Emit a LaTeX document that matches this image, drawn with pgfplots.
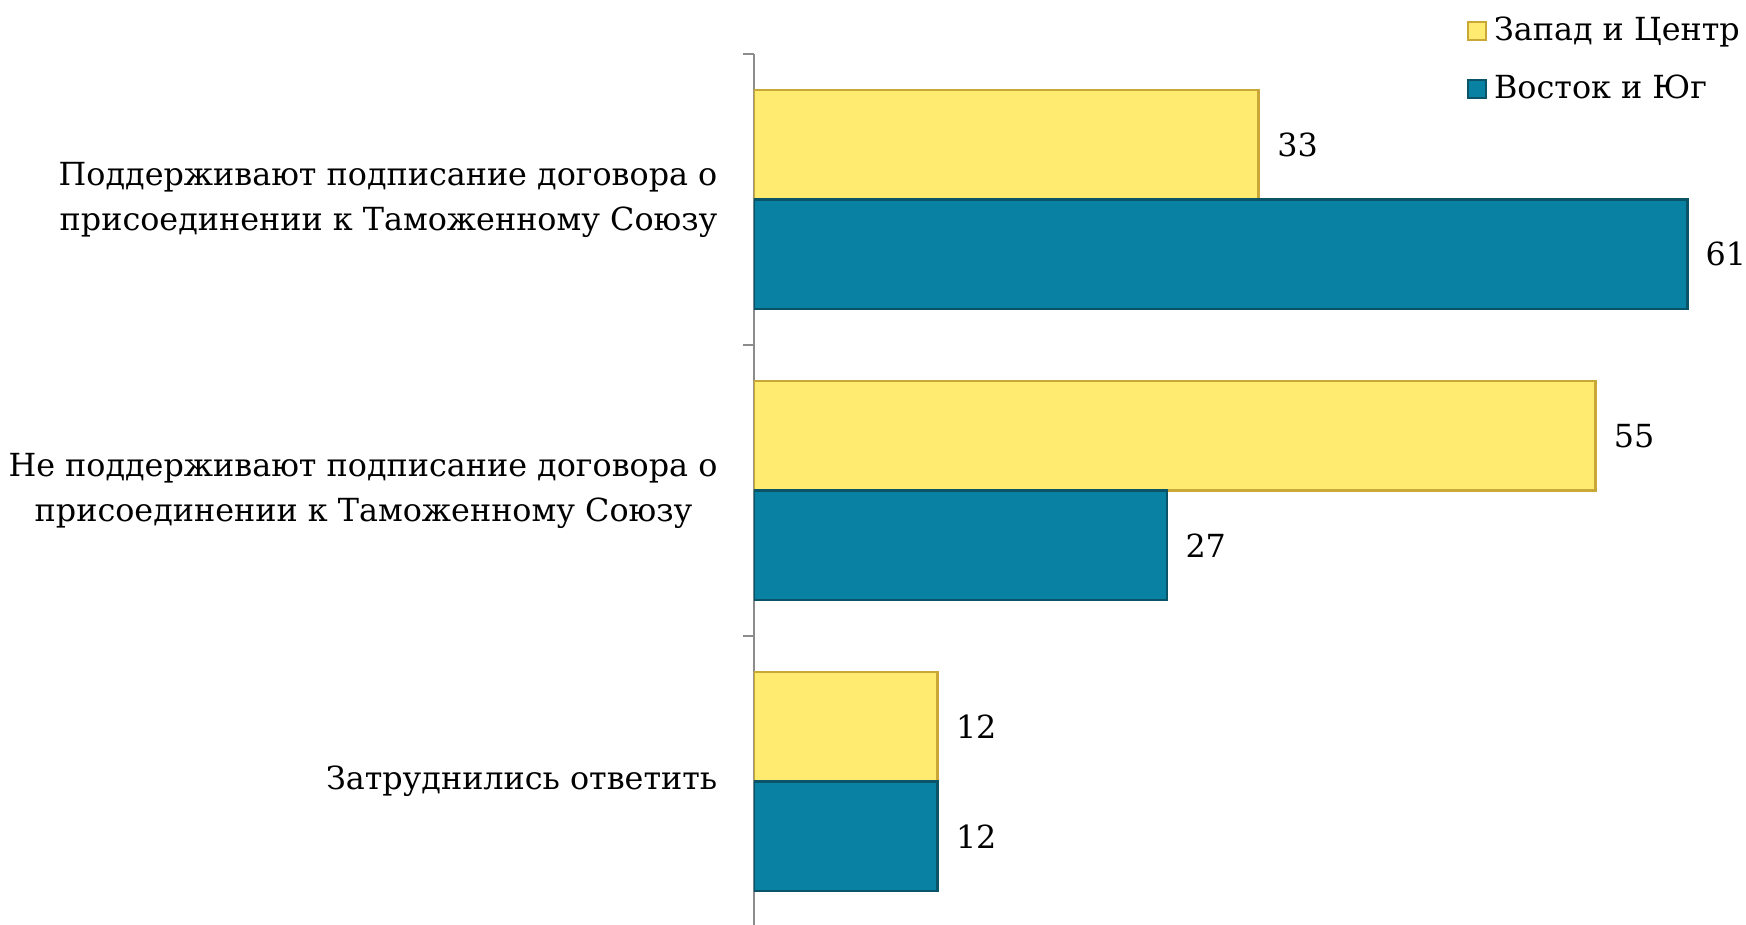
\documentclass[border=0pt]{standalone}
\usepackage{pgfplots}
\pgfplotsset{compat=1.18}
\usepackage{fontspec}
\setmainfont{DejaVu Serif}
\definecolor{zapad}{HTML}{FFEB70}
\definecolor{zapadline}{HTML}{C9A838}
\definecolor{vostok}{HTML}{0881A3}
\definecolor{vostokline}{HTML}{0B5468}
\definecolor{axisgray}{HTML}{8C8C8C}
\newcommand{\lblfont}{\fontsize{9.05}{12.8}\selectfont}

\begin{document}
\lblfont
\begin{tikzpicture}
\path[use as bounding box] (0,0) rectangle (17.46cm,9.25cm);
\begin{axis}[
  at={(7.54cm,-0.02cm)}, anchor=south west,
  scale only axis, width=9.945cm, height=8.73cm,
  xbar, bar width=10.95mm,
  xmin=0, xmax=65,
  ymin=-0.5, ymax=2.5, y dir=reverse,
  axis x line=none, axis y line*=left,
  y axis line style={draw=axisgray, line width=0.5pt},
  ytick={0,1,2},
  yticklabels={{Поддерживают подписание договора о\\присоединении к Таможенному Союзу},
               {Не поддерживают подписание договора о\\присоединении к Таможенному Союзу\hspace*{2.5mm}},
               {Затруднились ответить}},
  major tick length=0pt,
  minor ytick={-0.5,0.5,1.5,2.5},
  minor tick length=1.1mm,
  tick align=outside,
  minor tick style={draw=axisgray, line width=0.5pt},
  yticklabel style={align=right, inner sep=0pt, xshift=-3.6mm, font=\lblfont},
  nodes near coords,
  /pgf/number format/assume math mode=true,
  every node near coord/.append style={anchor=west, inner sep=0pt, xshift=1.7mm, font=\lblfont, text=black},
  legend style={at={(0.999,0.993)}, anchor=east, draw=none, fill=none,
    font=\lblfont, row sep=1.6mm, inner sep=0pt},
  legend cell align=left,
  legend image code/.code={\draw[#1, line width=0.6pt] (0mm,-0.9mm) rectangle (1.8mm,0.9mm);},
]
\addplot[fill=zapad, draw=zapadline, line width=0.8pt, bar shift=5.475mm]
  coordinates {(33,0) (55,1) (12,2)};
\addplot[fill=vostok, draw=vostokline, line width=0.8pt, bar shift=-5.475mm]
  coordinates {(61,0) (27,1) (12,2)};
\legend{Запад и Центр, Восток и Юг}
\end{axis}
\end{tikzpicture}
\end{document}
